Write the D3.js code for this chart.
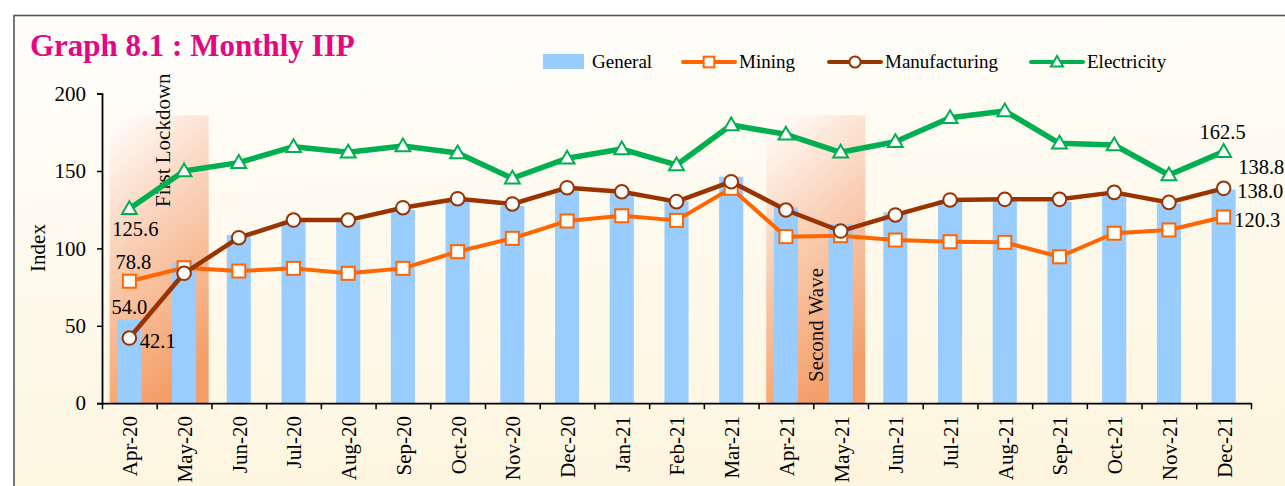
<!DOCTYPE html>
<html>
<head>
<meta charset="utf-8">
<script src="https://cdn.jsdelivr.net/npm/d3@7"></script>
<style>
  body { margin: 0; background: #fff; }
  svg { display: block; font-family: "Liberation Serif", "Times New Roman", serif; }
</style>
</head>
<body>
<svg id="chart" width="1285" height="486"></svg>
<script>
const months = ["Apr-20", "May-20", "Jun-20", "Jul-20", "Aug-20", "Sep-20", "Oct-20", "Nov-20", "Dec-20",
  "Jan-21", "Feb-21", "Mar-21", "Apr-21", "May-21", "Jun-21", "Jul-21", "Aug-21", "Sep-21", "Oct-21", "Nov-21", "Dec-21"];
const general = [54.0, 90.8, 108.7, 117.5, 117.5, 124.8, 130.5, 127.4, 138.3, 135.6, 130.6, 146.3, 126.5, 115.6,
  123.3, 131.3, 130.6, 130.2, 134.6, 129.1, 138.0];
const mining = [78.8, 87.5, 85.4, 87.1, 83.9, 87.1, 97.9, 106.5, 117.7, 121.1, 118.1, 138.8, 107.6, 108.2,
  105.4, 104.3, 103.9, 94.6, 109.8, 111.9, 120.3];
const manufacturing = [42.1, 83.9, 106.9, 118.3, 118.3, 126.3, 132.1, 128.7, 139.2, 136.6, 130.2, 143.1, 124.8, 111.2,
  121.6, 131.3, 131.7, 131.7, 136.2, 129.7, 138.8];
const electricity = [125.6, 150.0, 155.4, 165.7, 162.1, 166.1, 161.6, 145.3, 158.2, 164.2, 153.9, 179.7, 173.7, 162.1,
  168.9, 184.4, 188.8, 167.9, 166.8, 147.4, 162.5];
const yTicks = [0, 50, 100, 150, 200];
const shades = [
  { label: "First Lockdown", from: "Apr-20", to: "May-20" },
  { label: "Second Wave", from: "Apr-21", to: "May-21" }
];
const shadeTop = 186;

const svg = d3.select("svg#chart");
const width = +svg.attr("width");
const height = +svg.attr("height");

const defs = svg.append("defs");
const bg = defs.append("linearGradient").attr("id", "bg").attr("x1", 0).attr("y1", 0).attr("x2", 0.15).attr("y2", 1);
bg.append("stop").attr("offset", "0%").attr("stop-color", "#fffefc");
bg.append("stop").attr("offset", "100%").attr("stop-color", "#fdf5de");
const sh = defs.append("linearGradient").attr("id", "shade").attr("x1", 0.2).attr("y1", 0).attr("x2", 0.5).attr("y2", 1);
sh.append("stop").attr("offset", "0%").attr("stop-color", "#fffaf6");
sh.append("stop").attr("offset", "45%").attr("stop-color", "#f9cdb2");
sh.append("stop").attr("offset", "100%").attr("stop-color", "#f49d66");

// frame
svg.append("rect")
  .attr("x", 14).attr("y", 15.5)
  .attr("width", width + 20).attr("height", height + 20)
  .attr("fill", "url(#bg)")
  .attr("stroke", "#555").attr("stroke-width", 1.6);

svg.append("text")
  .text("Graph 8.1 : Monthly IIP")
  .attr("x", 30).attr("y", 56)
  .attr("fill", "#e5077f")
  .style("font-size", "31px").style("font-weight", "bold");

const x = d3.scaleBand().domain(months).range([102, 1251]);
const step = x.step();
const cx = (m) => x(m) + step / 2;
const y = d3.scaleLinear().domain([0, 200]).range([403.2, 93.6]);
const barW = step * 0.44;

// shaded periods
shades.forEach((s) => {
  const x0 = cx(s.from) - step * 0.36;
  const x1 = cx(s.to) + step * 0.45;
  svg.append("rect")
    .attr("x", x0).attr("y", y(shadeTop))
    .attr("width", x1 - x0).attr("height", y(0) - y(shadeTop))
    .attr("fill", "url(#shade)");
});

// bars
svg.append("g").selectAll("rect")
  .data(general)
  .join("rect")
  .attr("x", (d, i) => cx(months[i]) - barW / 2)
  .attr("y", (d) => y(d))
  .attr("width", barW)
  .attr("height", (d) => y(0) - y(d))
  .attr("fill", "#99ccff");

// shade labels
svg.append("text").text(shades[0].label)
  .attr("transform", `translate(${cx(shades[0].from) + step * 0.74},207) rotate(-90)`)
  .style("font-size", "21px").attr("fill", "#111");
svg.append("text").text(shades[1].label)
  .attr("transform", `translate(${cx(shades[1].from) + step * 0.68},382) rotate(-90)`)
  .style("font-size", "21px").attr("fill", "#111");

const line = d3.line().x((d, i) => cx(months[i])).y((d) => y(d));

function drawSeries(values, color, lw, shape) {
  svg.append("path")
    .datum(values)
    .attr("d", line)
    .attr("fill", "none")
    .attr("stroke", color)
    .attr("stroke-width", lw)
    .attr("stroke-linejoin", "round");
  const g = svg.append("g");
  values.forEach((d, i) => drawMarker(g, cx(months[i]), y(d), color, shape, 1));
}

function drawMarker(g, px, py, color, shape, s) {
  if (shape === "square") {
    g.append("rect")
      .attr("x", px - 6.5 * s).attr("y", py - 6.5 * s)
      .attr("width", 13 * s).attr("height", 13 * s)
      .attr("fill", "#fff").attr("stroke", color).attr("stroke-width", 2);
  } else if (shape === "circle") {
    g.append("circle")
      .attr("cx", px).attr("cy", py).attr("r", 6.8 * s)
      .attr("fill", "#fff").attr("stroke", color).attr("stroke-width", 2);
  } else {
    g.append("path")
      .attr("d", d3.symbol(d3.symbolTriangle, 95 * s * s)())
      .attr("transform", `translate(${px},${py + 1})`)
      .attr("fill", "#fff").attr("stroke", color).attr("stroke-width", 2);
  }
}

drawSeries(mining, "#ff6600", 4, "square");
drawSeries(manufacturing, "#993300", 4.5, "circle");
drawSeries(electricity, "#00b050", 5.5, "triangle");

// axes
const yAxis = d3.axisLeft(y).tickValues(yTicks).tickSize(5).tickPadding(11);
const ya = svg.append("g").attr("transform", "translate(102,0)").call(yAxis);
ya.select(".domain").attr("stroke", "#000").attr("stroke-width", 1.8);
ya.selectAll(".tick line").attr("stroke", "#000").attr("stroke-width", 1.5);
ya.selectAll(".tick text").style("font-size", "21px").style("font-family", "Liberation Serif").attr("fill", "#000");

const xEdge = d3.scaleLinear().domain([0, months.length]).range([102, 1251]);
const xAxis = d3.axisBottom(xEdge).tickValues(d3.range(months.length + 1)).tickSize(6).tickSizeOuter(0).tickFormat("");
const xa = svg.append("g").attr("transform", `translate(0,${y(0)})`).call(xAxis);
xa.select(".domain").attr("stroke", "#000").attr("stroke-width", 1.8);
xa.selectAll(".tick line").attr("stroke", "#000").attr("stroke-width", 1.5);

svg.append("g").selectAll("text")
  .data(months)
  .join("text")
  .text((d) => d)
  .attr("text-anchor", "end")
  .attr("dy", "0.38em")
  .attr("transform", (d) => `translate(${cx(d)},416) rotate(-90)`)
  .style("font-size", "21px");

svg.append("text").text("Index")
  .attr("text-anchor", "middle")
  .attr("transform", "translate(45,248) rotate(-90)")
  .style("font-size", "21px");

// value labels
const first = months[0];
const last = months[months.length - 1];
const n = months.length - 1;
const labels = [
  { t: electricity[0].toFixed(1), x: cx(first) + 6, y: y(electricity[0]) + 27, a: "middle" },
  { t: mining[0].toFixed(1), x: cx(first) + 4, y: y(mining[0]) - 12, a: "middle" },
  { t: general[0].toFixed(1), x: cx(first), y: y(general[0]) - 6, a: "middle" },
  { t: manufacturing[0].toFixed(1), x: cx(first) + 10.5, y: y(manufacturing[0]) + 10, a: "start" },
  { t: electricity[n].toFixed(1), x: cx(last) - 1, y: y(electricity[n]) - 13, a: "middle" },
  { t: manufacturing[n].toFixed(1), x: cx(last) + 14.5, y: y(manufacturing[n]) - 14, a: "start" },
  { t: general[n].toFixed(1), x: cx(last) + 13.5, y: y(general[n]) + 8.5, a: "start" },
  { t: mining[n].toFixed(1), x: cx(last) + 10.5, y: y(mining[n]) + 10, a: "start" }
];
svg.append("g").selectAll("text")
  .data(labels)
  .join("text")
  .text((d) => d.t)
  .attr("x", (d) => d.x)
  .attr("y", (d) => d.y)
  .attr("text-anchor", (d) => d.a)
  .style("font-size", "20.5px");

// legend
const legend = svg.append("g").style("font-size", "19px");
legend.append("rect").attr("x", 543).attr("y", 54).attr("width", 41).attr("height", 15).attr("fill", "#99ccff");
legend.append("text").text("General").attr("x", 592).attr("y", 68);
const legendItems = [
  { name: "Mining", color: "#ff6600", shape: "square", x0: 683 },
  { name: "Manufacturing", color: "#993300", shape: "circle", x0: 829 },
  { name: "Electricity", color: "#00b050", shape: "triangle", x0: 1031 }
];
legendItems.forEach((d) => {
  legend.append("line")
    .attr("x1", d.x0).attr("x2", d.x0 + 52).attr("y1", 62).attr("y2", 62)
    .attr("stroke", d.color).attr("stroke-width", 4).attr("stroke-linecap", "round");
  drawMarker(legend, d.x0 + 26, 62, d.color, d.shape, 0.82);
  legend.append("text").text(d.name).attr("x", d.x0 + 56).attr("y", 68);
});
</script>
</body>
</html>
